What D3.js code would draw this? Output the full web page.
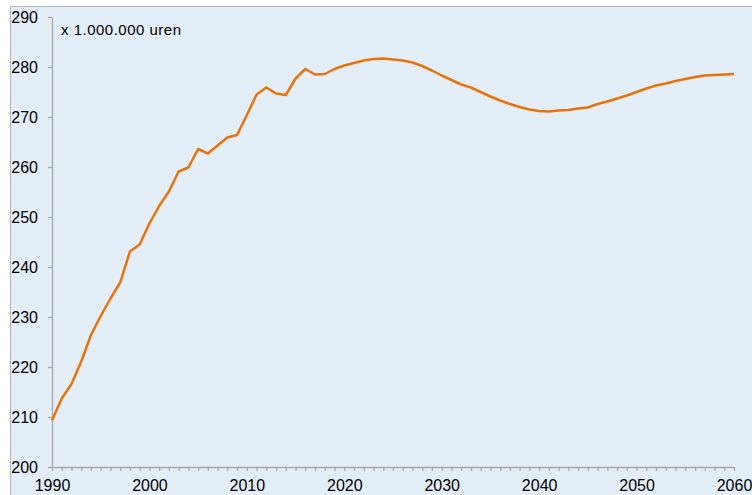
<!DOCTYPE html>
<html>
<head>
<meta charset="utf-8">
<script src="https://cdn.jsdelivr.net/npm/d3@7"></script>
<style>
  body { margin: 0; background: #fff; }
  text { font-family: "Liberation Sans", Arial, sans-serif; fill: #000; }
</style>
</head>
<body>
<div id="chart"></div>
<script>
// data: hours worked, x 1.000.000 uren, per year
let years = d3.range(1990, 2061);
let hours = [
  209.3, 213.7, 216.6, 221.1, 226.4, 230.2, 233.7, 236.9, 243.1, 244.5,
  248.7, 252.2, 255.1, 259.1, 259.9, 263.6, 262.7, 264.3, 265.9, 266.4,
  270.4, 274.5, 275.9, 274.7, 274.4, 277.7, 279.6, 278.5, 278.6, 279.6,
  280.3, 280.8, 281.3, 281.6, 281.7, 281.5, 281.3, 280.9, 280.2, 279.3,
  278.3, 277.4, 276.5, 275.9, 275.0, 274.1, 273.3, 272.6, 272.0, 271.5,
  271.2, 271.1, 271.3, 271.4, 271.7, 271.9, 272.6, 273.1, 273.7, 274.3,
  275.0, 275.7, 276.3, 276.7, 277.2, 277.6, 278.0, 278.3, 278.4, 278.5,
  278.6
];
let yTicks = [200, 210, 220, 230, 240, 250, 260, 270, 280, 290];
let xTicks = [1990, 2000, 2010, 2020, 2030, 2040, 2050, 2060];
let unitLabel = "x 1.000.000 uren";

let w = 752, h = 495;
let padLeft = 52, padRight = 734, padTop = 17, padBottom = 467;

let viz = d3.select("#chart")
  .append("svg")
    .attr("width", w)
    .attr("height", h);

// plot background + frame
viz.append("rect")
  .attr("x", 10).attr("y", 7)
  .attr("width", w - 10).attr("height", h - 7)
  .attr("fill", "#e4eef7");
viz.append("path")
  .attr("d", "M10.5," + h + "V6.5H" + w)
  .attr("fill", "none")
  .attr("stroke", "#b4b4b4")
  .attr("stroke-width", 1);

let xScale = d3.scaleLinear().domain([1990, 2060]).range([padLeft, padRight]);
let yScale = d3.scaleLinear().domain([200, 290]).range([padBottom, padTop]);

// x axis: a tick every year, labels every 10 years
let xAxis = d3.axisBottom(xScale)
  .tickValues(years)
  .tickSize(4)
  .tickSizeOuter(0)
  .tickFormat(function(d){ return xTicks.includes(d) ? d : ""; });
let xAxisGroup = viz.append("g")
  .attr("class", "xaxis")
  .attr("transform", "translate(0," + padBottom + ")")
  .call(xAxis);
xAxisGroup.selectAll("text")
  .attr("y", 24)
  .attr("dy", 0)
  .style("font-size", "16px");

let yAxis = d3.axisLeft(yScale)
  .tickValues(yTicks)
  .tickSize(4)
  .tickSizeOuter(0)
  .tickPadding(10);
let yAxisGroup = viz.append("g")
  .attr("class", "yaxis")
  .attr("transform", "translate(" + padLeft + ",0)")
  .call(yAxis);
yAxisGroup.selectAll("text")
  .style("font-size", "16px");

viz.selectAll(".domain, .tick line")
  .attr("stroke", "#a8a8a8")
  .attr("stroke-width", 1.3);
viz.selectAll(".tick text").attr("fill", "#000");
viz.selectAll("g.xaxis, g.yaxis").attr("font-family", null);

// unit label, stretched a little like the original
viz.append("text")
  .attr("x", 61)
  .attr("y", 35)
  .attr("textLength", 120)
  .style("font-size", "15px")
  .text(unitLabel);

let line = d3.line()
  .x(function(d, i){ return xScale(years[i]); })
  .y(function(d){ return yScale(d); });

viz.append("path")
  .datum(hours)
  .attr("d", line)
  .attr("fill", "none")
  .attr("stroke", "#e8730c")
  .attr("stroke-width", 2.5)
  .attr("stroke-linejoin", "round");
</script>
</body>
</html>
